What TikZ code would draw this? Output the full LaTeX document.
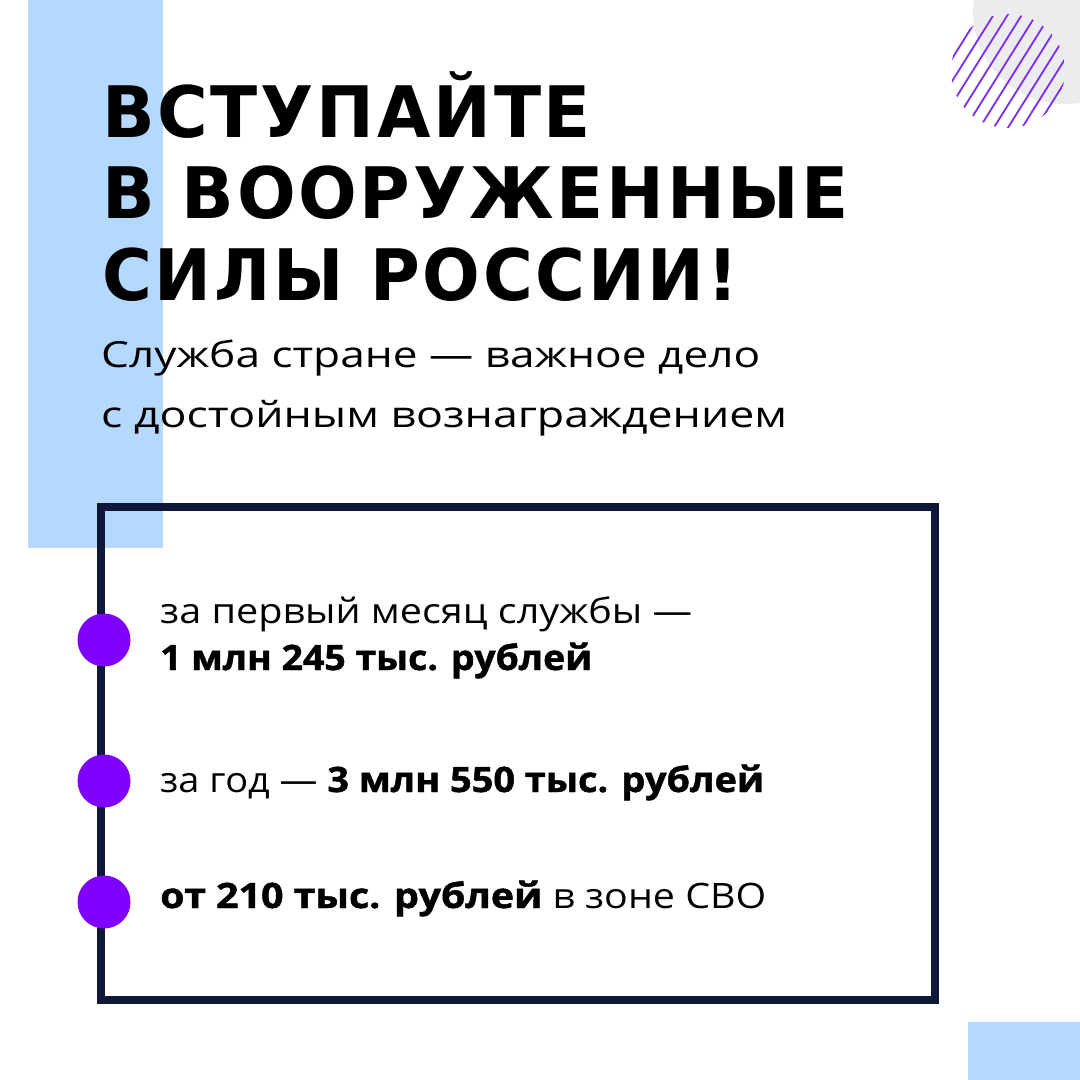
\documentclass[tikz,border=0pt]{standalone}
\usepackage{fontspec}
\usepackage{graphicx}
\setmainfont{Open Sans}[BoldFeatures={FakeBold=1.2}]
\newfontfamily\titlefont{DejaVu Sans}[LetterSpace=4]
\definecolor{lightblue}{HTML}{B5D8FF}
\definecolor{softgray}{HTML}{ECECEF}
\definecolor{hatchpurple}{HTML}{7A2EF2}
\definecolor{dotviolet}{HTML}{8000FF}
\definecolor{navy}{HTML}{0E1838}
\tikzset{
  titletext/.style={anchor=base west, inner sep=0pt, font=\titlefont\bfseries\fontsize{71}{71}\selectfont, text=black},
  subtext/.style={anchor=base west, inner sep=0pt, font=\fontsize{36}{36}\selectfont, text=black},
  itemtext/.style={anchor=base west, inner sep=0pt, font=\fontsize{35}{35}\selectfont, text=black},
  dotmark/.style={circle, fill=dotviolet, minimum size=53pt, inner sep=0pt},
  hatchline/.style={draw=hatchpurple, line width=1.8pt, line cap=round},
  framebox/.style={draw=navy, line width=8pt}
}
\begin{document}
\begin{tikzpicture}[x=1pt,y=-1pt]
\useasboundingbox (0,0) rectangle (1080,1080);
\fill[white] (0,0) rectangle (1080,1080);
% background decorations
\fill[lightblue] (28,0) rectangle (163,548);
\fill[lightblue] (968,1022) rectangle (1080,1080);
\begin{scope}
  \clip (0,0) rectangle (1080,1080);
  \fill[softgray] (1065,12) circle (92);
\end{scope}
\begin{scope}
  \clip (1008,71) circle (57);
  \foreach \d in {-54,-42,...,54}{
    \draw[hatchline] ({1008+\d*0.848+31.8},{71+\d*0.53-50.9}) -- ({1008+\d*0.848-31.8},{71+\d*0.53+50.9});
  }
\end{scope}
% title
\node[titletext] (t1) at (102,137) {\resizebox{489pt}{\height}{ВСТУПАЙТЕ}};
\node[titletext] (t2) at (102,218) {\resizebox{747pt}{\height}{В ВООРУЖЕННЫЕ}};
\node[titletext] (t3) at (102,300) {\resizebox{636pt}{\height}{СИЛЫ РОССИИ!}};
% subtitle
\node[subtext] (s1) at (101,367) {\resizebox{659pt}{\height}{Служба стране — важное дело}};
\node[subtext] (s2) at (101,427) {\resizebox{686pt}{\height}{с достойным вознаграждением}};
% frame
\draw[framebox] (101,507) rectangle (934.5,1000);
% dots
\node[dotmark] (d1) at (104,640) {};
\node[dotmark] (d2) at (104,781) {};
\node[dotmark] (d3) at (104,902) {};
% items
\node[itemtext] (i1a) at (160,623) {\resizebox{532pt}{\height}{за первый месяц службы —}};
\node[itemtext] (i1b) at (160,670) {\resizebox{432pt}{\height}{\bfseries 1 млн 245 тыс. рублей}};
\node[itemtext] (i2) at (160,792) {\resizebox{604pt}{\height}{за год — \textbf{3 млн 550 тыс. рублей}}};
\node[itemtext] (i3) at (160,908) {\resizebox{606pt}{\height}{\textbf{от 210 тыс. рублей} в зоне СВО}};
\end{tikzpicture}
\end{document}
